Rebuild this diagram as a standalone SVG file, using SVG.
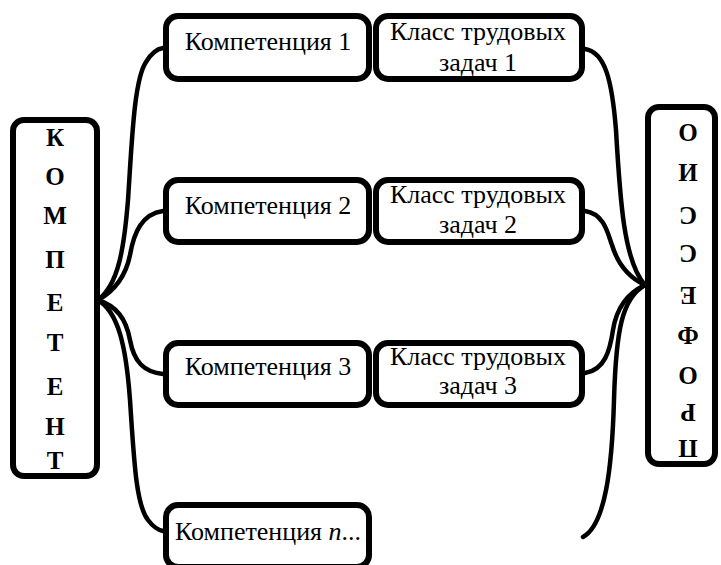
<svg xmlns="http://www.w3.org/2000/svg" width="721" height="565" viewBox="0 0 721 565">
<style>
.box{fill:#fff;stroke:#000;stroke-width:6}
.con{fill:none;stroke:#000;stroke-width:4.5;stroke-linecap:round}
</style>
<rect width="721" height="565" fill="#fff"/>
<g id="connectors">
<path class="con" d="M98,300 C118,285 124,250 128,200 C132,140 134,80 146,62 C152,52 157,49 163,48"/>
<path class="con" d="M98,300 C116,290 126,275 130,255 C134,232 142,214 163,211"/>
<path class="con" d="M98,300 C116,306 126,318 130,340 C134,362 144,372 163,374"/>
<path class="con" d="M98,300 C118,312 126,345 130,400 C134,460 136,505 148,520 C154,528 158,530 163,531"/>
<path class="con" d="M585,49 C605,52 612,80 616,130 C620,200 624,262 645,285"/>
<path class="con" d="M585,211 C605,214 608,235 612,245 C618,265 630,278 645,285"/>
<path class="con" d="M585,373 C605,370 610,350 613,330 C617,305 630,292 645,285"/>
<path class="con" d="M583,537 C605,525 612,470 614,400 C616,330 622,298 645,285"/>
</g>
<g id="kompetent">
<rect class="box" x="13" y="120" width="84" height="356" rx="11"/>
<g font-family="Liberation Serif, serif" font-size="25" font-weight="bold" text-anchor="middle" fill="#000">
<text x="55" y="146">К</text>
<text x="55" y="185">О</text>
<text x="55" y="224">М</text>
<text x="55" y="268">П</text>
<text x="55" y="311">Е</text>
<text x="55" y="351">Т</text>
<text x="55" y="395">Е</text>
<text x="55" y="435">Н</text>
<text x="55" y="469">Т</text>
</g>
</g>
<g id="professio">
<rect class="box" x="648" y="107" width="67" height="357" rx="11"/>
<g transform="rotate(180 688 290)" font-family="Liberation Serif, serif" font-size="25" font-weight="bold" text-anchor="middle" fill="#000">
<text x="688" y="140">П</text>
<text x="688" y="176">Р</text>
<text x="688" y="213">О</text>
<text x="688" y="253">Ф</text>
<text x="688" y="293">Е</text>
<text x="688" y="335">С</text>
<text x="688" y="373">С</text>
<text x="688" y="416">И</text>
<text x="688" y="456">О</text>
</g>
</g>
<g font-family="Liberation Serif, serif" font-size="26" text-anchor="middle" fill="#000">
<g id="komp1">
<rect class="box" x="166" y="16" width="203" height="63" rx="12"/>
<text x="268" y="50">Компетенция 1</text>
</g>
<g id="klass1">
<rect class="box" x="376" y="16" width="206" height="63" rx="12"/>
<text x="478" y="40">Класс трудовых</text>
<text x="478" y="71">задач 1</text>
</g>
<g id="komp2">
<rect class="box" x="166" y="180" width="203" height="62" rx="12"/>
<text x="268" y="214">Компетенция 2</text>
</g>
<g id="klass2">
<rect class="box" x="376" y="180" width="206" height="62" rx="12"/>
<text x="478" y="203">Класс трудовых</text>
<text x="478" y="233">задач 2</text>
</g>
<g id="komp3">
<rect class="box" x="166" y="343" width="203" height="62" rx="12"/>
<text x="268" y="375">Компетенция 3</text>
</g>
<g id="klass3">
<rect class="box" x="376" y="343" width="206" height="62" rx="12"/>
<text x="478" y="365">Класс трудовых</text>
<text x="478" y="394">задач 3</text>
</g>
<g id="kompn">
<rect class="box" x="166" y="505" width="203" height="62" rx="12"/>
<text x="268" y="540">Компетенция <tspan font-style="italic">n</tspan>...</text>
</g>
</g>
</svg>
